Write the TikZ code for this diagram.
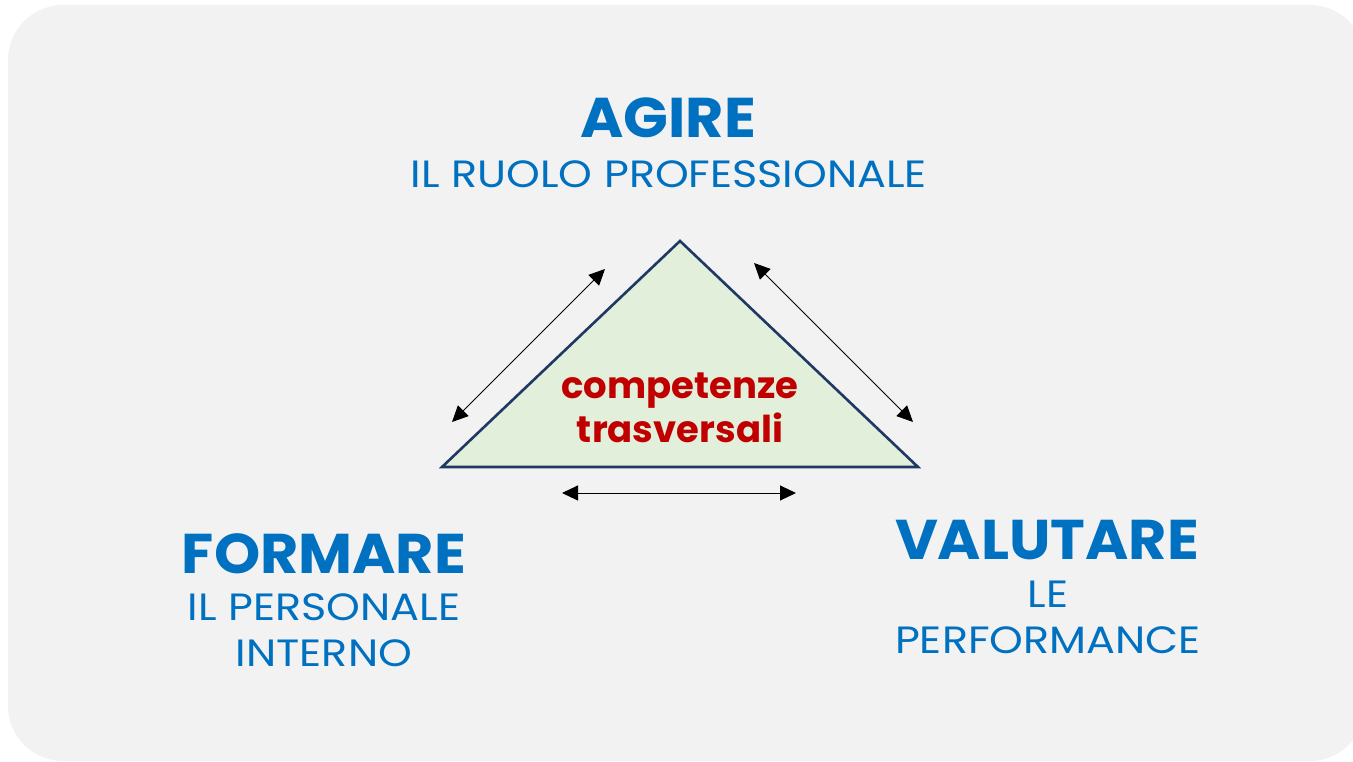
\documentclass[tikz,border=0pt]{standalone}
\usepackage{fontspec}
\setmainfont{Poppins}
\newfontfamily\titlefont[FakeStretch=1.05]{Poppins}
\newfontfamily\subfont[FakeStretch=1.13]{Poppins}
\usetikzlibrary{arrows.meta}
\definecolor{bgc}{HTML}{F2F2F2}
\definecolor{titleblue}{HTML}{0070C0}
\definecolor{darkred}{HTML}{C00000}
\definecolor{trifill}{HTML}{E2EFDA}
\definecolor{triline}{HTML}{1F3864}
\tikzset{
  title/.style={anchor=base, text=titleblue, font=\titlefont\fontsize{56}{60}\selectfont\bfseries, inner sep=0pt},
  subtitle/.style={anchor=base, text=titleblue, font=\subfont\fontsize{38}{45.5}\selectfont, align=center, inner sep=0pt},
  center text/.style={anchor=base, text=darkred, font=\fontsize{37}{44}\selectfont\bfseries, align=center, inner sep=0pt},
  link/.style={line width=1pt, {Triangle[length=16pt,width=15pt]}-{Triangle[length=16pt,width=15pt]}}
}
\begin{document}
\begin{tikzpicture}[x=1pt,y=-1pt]
\useasboundingbox (0,0) rectangle (1353,762);
\fill[bgc, rounded corners=55pt] (8,5) rectangle (1365,761);
% triangle
\coordinate (top) at (680,241);
\coordinate (bl) at (442,467);
\coordinate (br) at (918,467);
\filldraw[fill=trifill, draw=triline, line width=2.6pt, line join=miter] (top) -- (br) -- (bl) -- cycle;
\node[center text] (comp) at (680,442) {competenze\\trasversali};
% texts
\node[title] (agire) at (668,138) {AGIRE};
\node[subtitle] (agiresub) at (669,188) {IL RUOLO PROFESSIONALE};
\node[title] (formare) at (324,573) {FORMARE};
\node[subtitle] (formaresub) at (324,666) {IL PERSONALE\\INTERNO};
\node[title] (valutare) at (1047,559) {VALUTARE};
\node[subtitle] (valutaresub) at (1048,653) {LE\\PERFORMANCE};
% arrows
\coordinate (la) at (452,422);
\coordinate (lb) at (605,269);
\coordinate (ra) at (754,263);
\coordinate (rb) at (913,422);
\coordinate (ba) at (562,493);
\coordinate (bb) at (796,493);
\draw[link] (la) -- (lb);
\draw[link] (ra) -- (rb);
\draw[link] (ba) -- (bb);
\end{tikzpicture}
\end{document}
